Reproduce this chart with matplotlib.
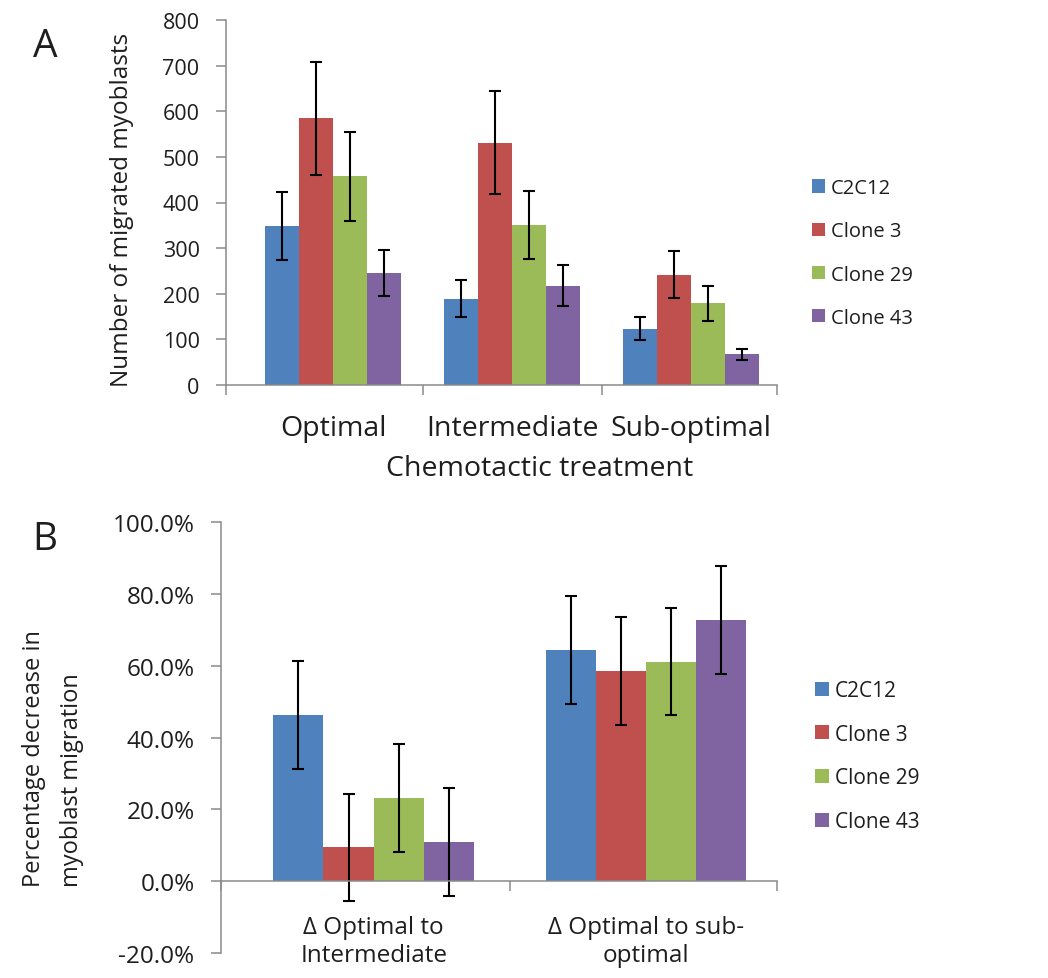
#!/usr/bin/env python

# Two-panel grouped bar chart: myoblast migration under chemotactic treatment

import matplotlib
matplotlib.use("Agg")
import numpy as np
import matplotlib.pyplot as plt
from matplotlib.ticker import FixedLocator, FuncFormatter

plt.rcParams['font.family'] = ['Open Sans', 'DejaVu Sans']

# ---- data -------------------------------------------------------------
series = ["C2C12", "Clone 3", "Clone 29", "Clone 43"]
colors = ["#4F81BD", "#C0504D", "#9BBB59", "#8064A2"]

# panel A: number of migrated myoblasts
treatments = ["Optimal", "Intermediate", "Sub-optimal"]
counts = {
    "C2C12":    [349, 189, 123],
    "Clone 3":  [585, 531, 242],
    "Clone 29": [457, 351, 179],
    "Clone 43": [245, 218, 67],
}
counts_err = {
    "C2C12":    [74, 41, 25],
    "Clone 3":  [124, 113, 52],
    "Clone 29": [97, 75, 38],
    "Clone 43": [50, 45, 13],
}

# panel B: percentage decrease in migration
changes = ["\u0394 Optimal to\nIntermediate", "\u0394 Optimal to sub-\noptimal"]
decrease = {
    "C2C12":    [46.4, 64.4],
    "Clone 3":  [9.4, 58.6],
    "Clone 29": [23.2, 61.2],
    "Clone 43": [11.0, 72.7],
}
decrease_err = {
    "C2C12":    [15.0, 15.0],
    "Clone 3":  [15.0, 15.0],
    "Clone 29": [15.0, 15.0],
    "Clone 43": [15.0, 15.0],
}

TEXT = "#1e1e1e"
AXIS = "#8a8a8a"

fig = plt.figure(figsize=(10.48, 9.79), dpi=100)


def style_axes(ax, xlim, tick_pad, label_size):
    ax.spines[['top', 'right']].set_visible(False)
    for s in ('left', 'bottom'):
        ax.spines[s].set_color(AXIS)
        ax.spines[s].set_linewidth(1.1)
    ax.set_xlim(*xlim)
    # category separators as major ticks, labels on minor ticks
    n = len(ax._cats)
    ax.xaxis.set_major_locator(FixedLocator([xlim[0]] + [i + 0.5 for i in range(n - 1)] + [xlim[1]]))
    ax.xaxis.set_major_formatter(FuncFormatter(lambda v, p: ""))
    ax.xaxis.set_minor_locator(FixedLocator(list(range(n))))
    ax.set_xticklabels(ax._cats, minor=True)
    ax.tick_params(axis='x', which='major', length=7, width=1.1, color=AXIS, direction='out')
    ax.tick_params(axis='x', which='minor', length=0, pad=tick_pad, labelsize=label_size, labelcolor=TEXT)
    ax.tick_params(axis='y', length=7, width=1.1, color=AXIS, direction='out', pad=12, labelcolor=TEXT)


def draw_bars(ax, data, err, width):
    x = np.arange(len(ax._cats))
    for i, name in enumerate(series):
        ax.bar(x + (i - 1.5) * width, data[name], width, color=colors[i], label=name,
               yerr=err[name], error_kw=dict(ecolor='black', elinewidth=1.5, capsize=4.3, capthick=1.5))


# ---- panel A ------------------------------------------------------------
axA = fig.add_axes([226 / 1048, 1 - 386 / 979, 551 / 1048, 365 / 979])
axA._cats = treatments
draw_bars(axA, counts, counts_err, 0.19)
axA.set_ylim(0, 800)
axA.set_yticks(np.arange(0, 801, 100))
axA.tick_params(axis='y', labelsize=15.5)
style_axes(axA, (-0.6, 2.48), 21, 20.5)

fig.text(122 / 1048, 1 - 210 / 979, "Number of migrated myoblasts", rotation=90,
         ha='center', va='center', fontsize=17.5, color=TEXT)
fig.text(540 / 1048, 1 - 476 / 979, "Chemotactic treatment", ha='center', va='baseline',
         fontsize=20.5, color=TEXT)
fig.text(45 / 1048, 1 - 57 / 979, "A", ha='center', va='baseline', fontsize=28, color=TEXT)

legA = axA.legend(loc='center left', bbox_to_anchor=(812 / 1048, 1 - 254 / 979),
                  bbox_transform=fig.transFigure, frameon=False, fontsize=14.5,
                  handlelength=0.65, handleheight=0.65, handletextpad=0.3,
                  labelspacing=1.15, borderpad=0, borderaxespad=0)
for t in legA.get_texts():
    t.set_color(TEXT)

# ---- panel B ------------------------------------------------------------
axB = fig.add_axes([221 / 1048, 1 - 954 / 979, 556 / 1048, (954 - 523.3) / 979])
axB._cats = changes
draw_bars(axB, decrease, decrease_err, 0.184)
axB.set_ylim(-20, 100)
axB.set_yticks(np.arange(-20, 101, 20))
axB.yaxis.set_major_formatter(FuncFormatter(lambda v, p: f"{v:.1f}%"))
axB.tick_params(axis='y', labelsize=17.5)
axB.spines['bottom'].set_position(('data', 0))
style_axes(axB, (-0.56, 1.48), 24, 17.5)
for lab in axB.get_xticklabels(minor=True):
    lab.set_linespacing(1.25)

fig.text(53 / 1048, 1 - 759 / 979, "Percentage decrease in\nmyoblast migration", rotation=90,
         ha='center', va='center', multialignment='left', linespacing=1.75,
         fontsize=17, color=TEXT)
fig.text(45 / 1048, 1 - 550 / 979, "B", ha='center', va='baseline', fontsize=28, color=TEXT)

legB = axB.legend(loc='center left', bbox_to_anchor=(815 / 1048, 1 - 757 / 979),
                  bbox_transform=fig.transFigure, frameon=False, fontsize=15,
                  handlelength=0.65, handleheight=0.65, handletextpad=0.3,
                  labelspacing=1.09, borderpad=0, borderaxespad=0)
for t in legB.get_texts():
    t.set_color(TEXT)

fig.savefig("out.png", dpi=100)
